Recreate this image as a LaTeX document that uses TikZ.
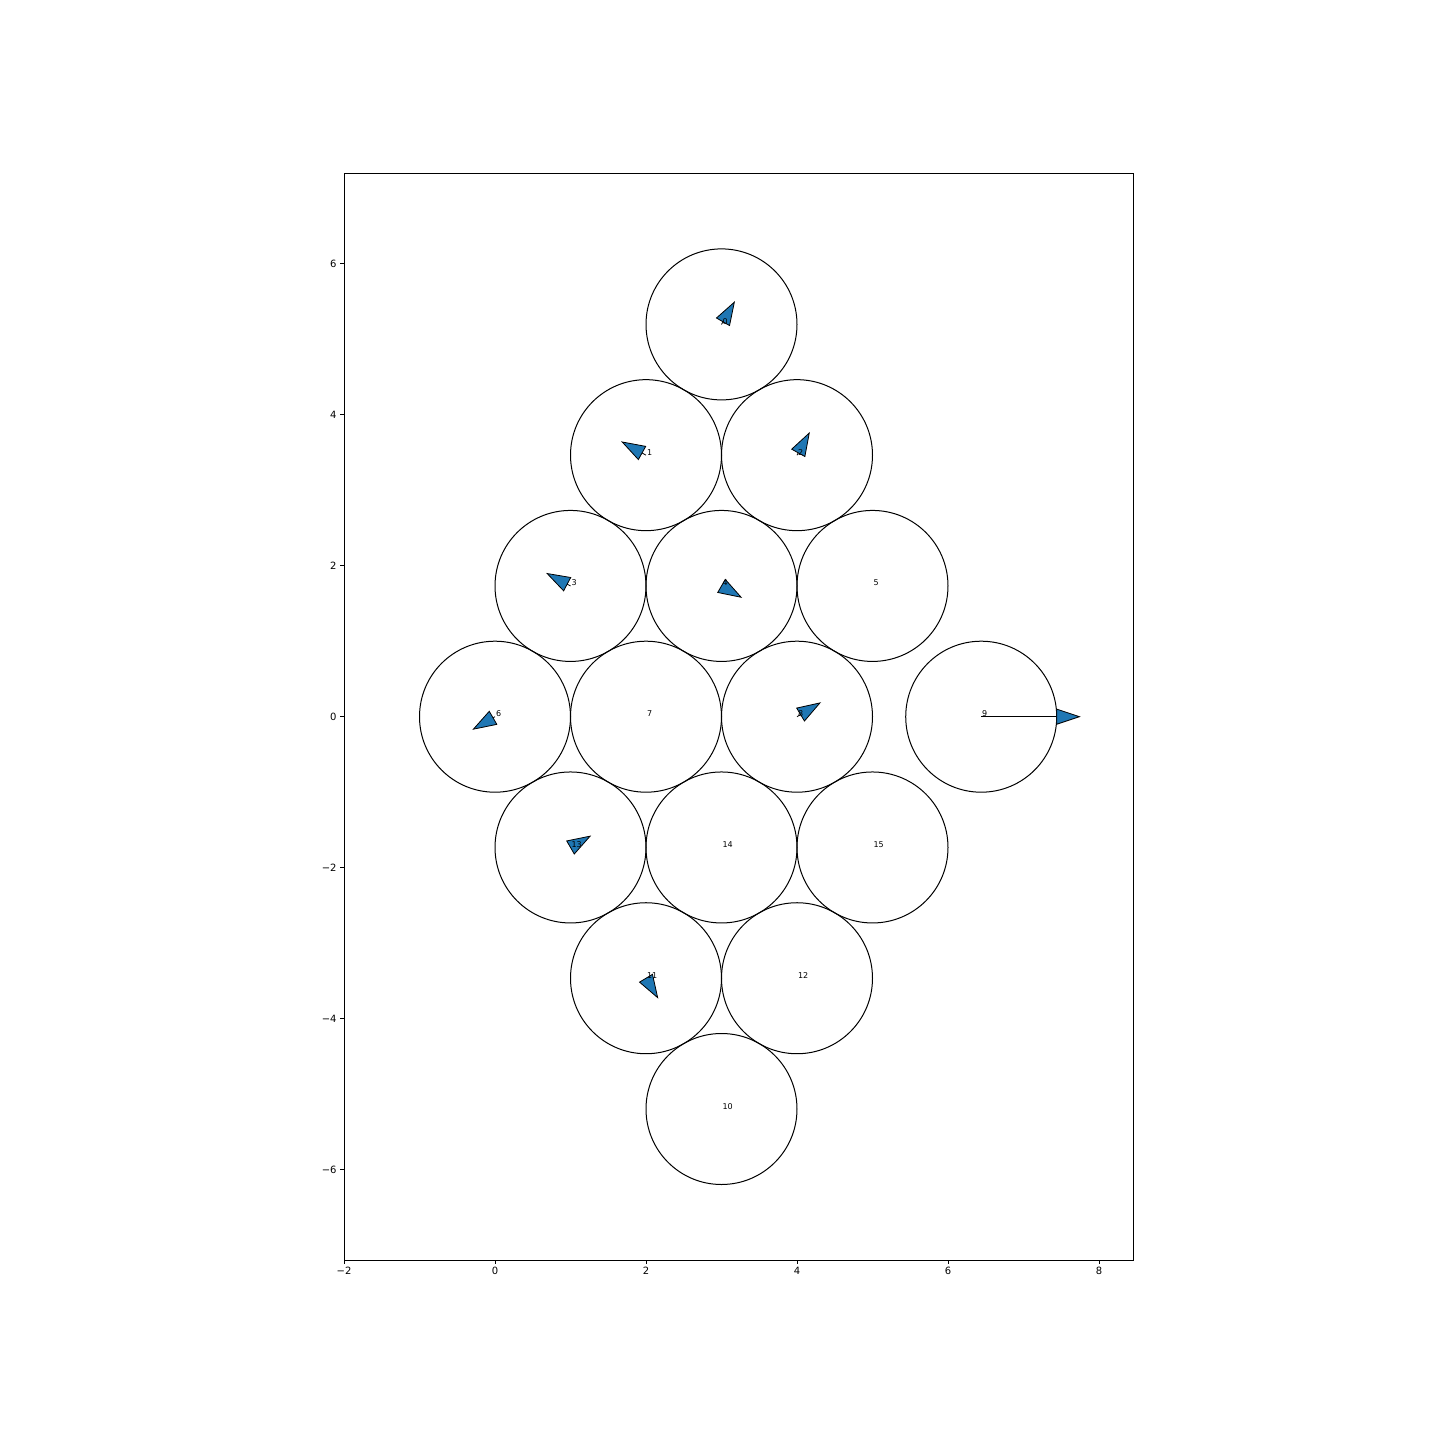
\documentclass[tikz,border=0pt]{standalone}
\usepackage{fontspec}
\setmainfont{DejaVu Sans}
\usetikzlibrary{calc}
\definecolor{mplblue}{HTML}{1F77B4}

\begin{document}
\begin{tikzpicture}[x=75.5pt,y=75.5pt,
		disk/.style={draw=black,line width=1pt},
		head/.style={fill=mplblue,draw=black,line width=0.8pt,line join=miter},
		idx/.style={anchor=base west,inner sep=0pt,font=\fontsize{8}{9}\selectfont},
		tick/.style={line width=0.8pt},
		ticklabel/.style={inner sep=0pt,font=\fontsize{10}{12}\selectfont}]

			\useasboundingbox (-6.5563,-9.5801) rectangle (12.5166,9.4927);

			% axes box
			\coordinate (ll) at (-2, -7.196);
			\coordinate (ur) at (8.454, 7.197);
			\draw[tick] (ll) rectangle (ur);

			\foreach \x/\t in {-2/−2,0/0,2/2,4/4,6/6,8/8}
				\draw[tick] (\x, -7.196) -- ++(0,-3.5pt) node[ticklabel,anchor=north,yshift=-3.5pt] (xt\x) {\t};
			\foreach \y/\t in {-6/−6,-4/−4,-2/−2,0/0,2/2,4/4,6/6}
				\draw[tick] (-2, \y) -- ++(-3.5pt,0) node[ticklabel,anchor=east,xshift=-3.5pt] (yt\y) {\t};

			% disc centres
			\coordinate (c0) at (3, 5.196);
			\coordinate (c1) at (2, 3.464);
			\coordinate (c2) at (4, 3.464);
			\coordinate (c3) at (1, 1.732);
			\coordinate (c4) at (3, 1.732);
			\coordinate (c5) at (5, 1.732);
			\coordinate (c6) at (0, 0);
			\coordinate (c7) at (2, 0);
			\coordinate (c8) at (4, 0);
			\coordinate (c9) at (6.44, 0);
			\coordinate (c10) at (3, -5.196);
			\coordinate (c11) at (2, -3.464);
			\coordinate (c12) at (4, -3.464);
			\coordinate (c13) at (1, -1.732);
			\coordinate (c14) at (3, -1.732);
			\coordinate (c15) at (5, -1.732);

			\foreach \i in {0,...,15}
				\draw[disk] (c\i) circle[radius=1];

			% velocity arrows: disc / angle / body length
			\foreach \i/\a/\l in {0/60/0.04, 1/151/0.06, 2/61/0.035, 3/152/0.05, 4/-30/0,
				6/210/0.03, 8/31/0.055, 9/0/1, 11/-59/0, 13/30/0} {
				\coordinate (b\i) at ($(c\i)+(\a:\l)$);
				\draw[line width=0.8pt] (c\i) -- (b\i);
				\filldraw[head] ($(b\i)+({\a+90}:0.1)$) -- ($(c\i)+(\a:{\l+0.3})$)
					-- ($(b\i)+({\a-90}:0.1)$) -- cycle;
			}

			% disc numbers on top
			\foreach \i in {0,...,15}
				\node[idx,xshift=0.8pt] (n\i) at (c\i) {\i};

		\end{tikzpicture}
\end{document}
